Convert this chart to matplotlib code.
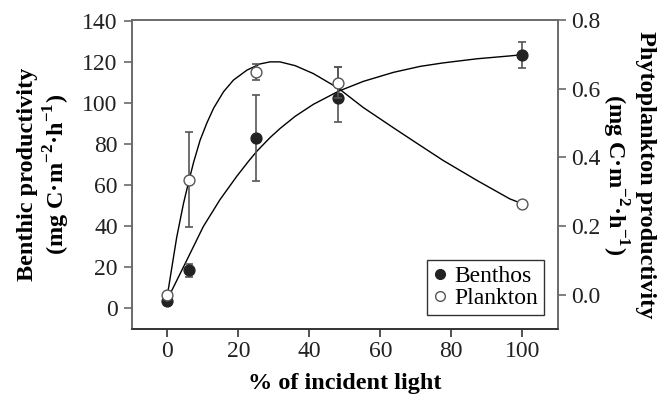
import numpy as np
import matplotlib
matplotlib.use("Agg")
import matplotlib.pyplot as plt
from matplotlib.lines import Line2D

plt.rcParams["font.family"] = "Liberation Serif"
plt.rcParams["mathtext.fontset"] = "custom"
plt.rcParams["mathtext.rm"] = "Liberation Serif:bold"
plt.rcParams["mathtext.bf"] = "Liberation Serif:bold"

# measured means and error bars
light = [0, 6, 25, 48, 100]
benthos = [3.6, 18.5, 83.1, 102.3, 123.6]
benthos_lo = [0.0, 3.0, 21.2, 11.3, 6.4]
benthos_hi = [0.0, 3.3, 21.1, 15.1, 6.3]
plankton = [0.0, 0.335, 0.648, 0.617, 0.265]
plankton_err = [0.0, 0.138, 0.024, 0.045, 0.0]

# fitted P-I curves
fit_x_b = [0, 5.5, 10.1, 14.8, 19.5, 22.8, 25.2, 28.9, 31.7, 36, 41.1, 48.2,
           55.2, 63.7, 71.2, 77.7, 87.2, 96.5, 100]
fit_b = [4.5, 23.7, 39.9, 53.0, 64.3, 71.6, 76.6, 83.2, 87.6, 93.6, 99.4,
         105.8, 110.6, 115.0, 117.9, 119.6, 121.6, 123.0, 123.6]
fit_x_p = [0, 2.6, 4.5, 6, 7.35, 9.2, 11.1, 13, 15.8, 18.6, 22.4, 26.1, 28.9,
           31.7, 36, 41.1, 48.2, 55.2, 63.7, 70, 77.7, 87.2, 96.5, 100]
fit_p = [0.0, 0.167, 0.265, 0.33, 0.385, 0.45, 0.5, 0.543, 0.591, 0.625,
         0.654, 0.672, 0.678, 0.678, 0.667, 0.644, 0.601, 0.545, 0.486, 0.443,
         0.391, 0.333, 0.279, 0.265]

grey = "#6a6a6a"
dark = "#222222"

fig = plt.figure(figsize=(6.68, 3.99), dpi=100)
ax1 = fig.add_axes([0.1976, 0.1754, 0.6373, 0.7745])
ax2 = ax1.twinx()

ax1.plot(fit_x_b, fit_b, color="black", lw=1.0, zorder=2)
ax2.plot(fit_x_p, fit_p, color="black", lw=1.0, zorder=2)

ax1.errorbar(light, benthos, yerr=[benthos_lo, benthos_hi], fmt="none",
             ecolor="#555555", elinewidth=1.2, capsize=3, capthick=1.2, zorder=3)
ax1.plot(light, benthos, "o", ms=7.8, mfc=dark, mec=dark, zorder=4)

ax2.errorbar(light, plankton, yerr=plankton_err, fmt="none",
             ecolor="#555555", elinewidth=1.2, capsize=3, capthick=1.2, zorder=3)
ax2.plot(light, plankton, "o", ms=7.8, mfc="white", mec="#555555", mew=1.0,
         zorder=4)

ax1.set_xlim(-10, 110)
ax1.set_ylim(-10, 140.5)
ax2.set_ylim(-0.1, 0.8)
ax1.set_xticks(range(0, 101, 20))
ax1.set_yticks(range(0, 141, 20))
ax2.set_yticks(np.arange(0, 0.81, 0.2))
ax2.set_yticklabels([f"{v:.1f}" for v in np.arange(0, 0.81, 0.2)])

for ax in (ax1, ax2):
    for sp in ax.spines.values():
        sp.set_color(grey)
        sp.set_linewidth(1.2)
    ax.spines["bottom"].set_color("#333333")
    ax.tick_params(direction="out", length=5.8, width=1.2, color=grey,
                   labelsize=17, labelcolor="#222222")
ax1.tick_params(axis="x", pad=2.5, color="#333333")
ax1.tick_params(axis="y", pad=4.5)
ax2.tick_params(axis="y", pad=3.5)

ax1.set_xlabel("% of incident light", fontsize=17.5, fontweight="bold",
               labelpad=8)
ax1.set_ylabel("Benthic productivity\n(mg C·m$^{-2}$·h$^{-1}$)",
               fontsize=17.5, fontweight="bold", labelpad=7, linespacing=1.2)
ax2.set_ylabel("Phytoplankton productivity\n(mg C·m$^{-2}$·h$^{-1}$)",
               fontsize=17.5, fontweight="bold", rotation=270, labelpad=40,
               linespacing=1.2)

handles = [
    Line2D([], [], ls="none", marker="o", ms=7, mfc=dark, mec=dark),
    Line2D([], [], ls="none", marker="o", ms=7, mfc="white", mec="#555555"),
]
leg = ax2.legend(handles, ["Benthos", "Plankton"], loc="lower right",
                 fontsize=17, frameon=True, fancybox=False, edgecolor="black",
                 handlelength=0.6, handletextpad=0.3, borderpad=0.25,
                 labelspacing=0.0, borderaxespad=0.6)
leg.get_frame().set_linewidth(1.0)

fig.savefig("out.png", dpi=100)
